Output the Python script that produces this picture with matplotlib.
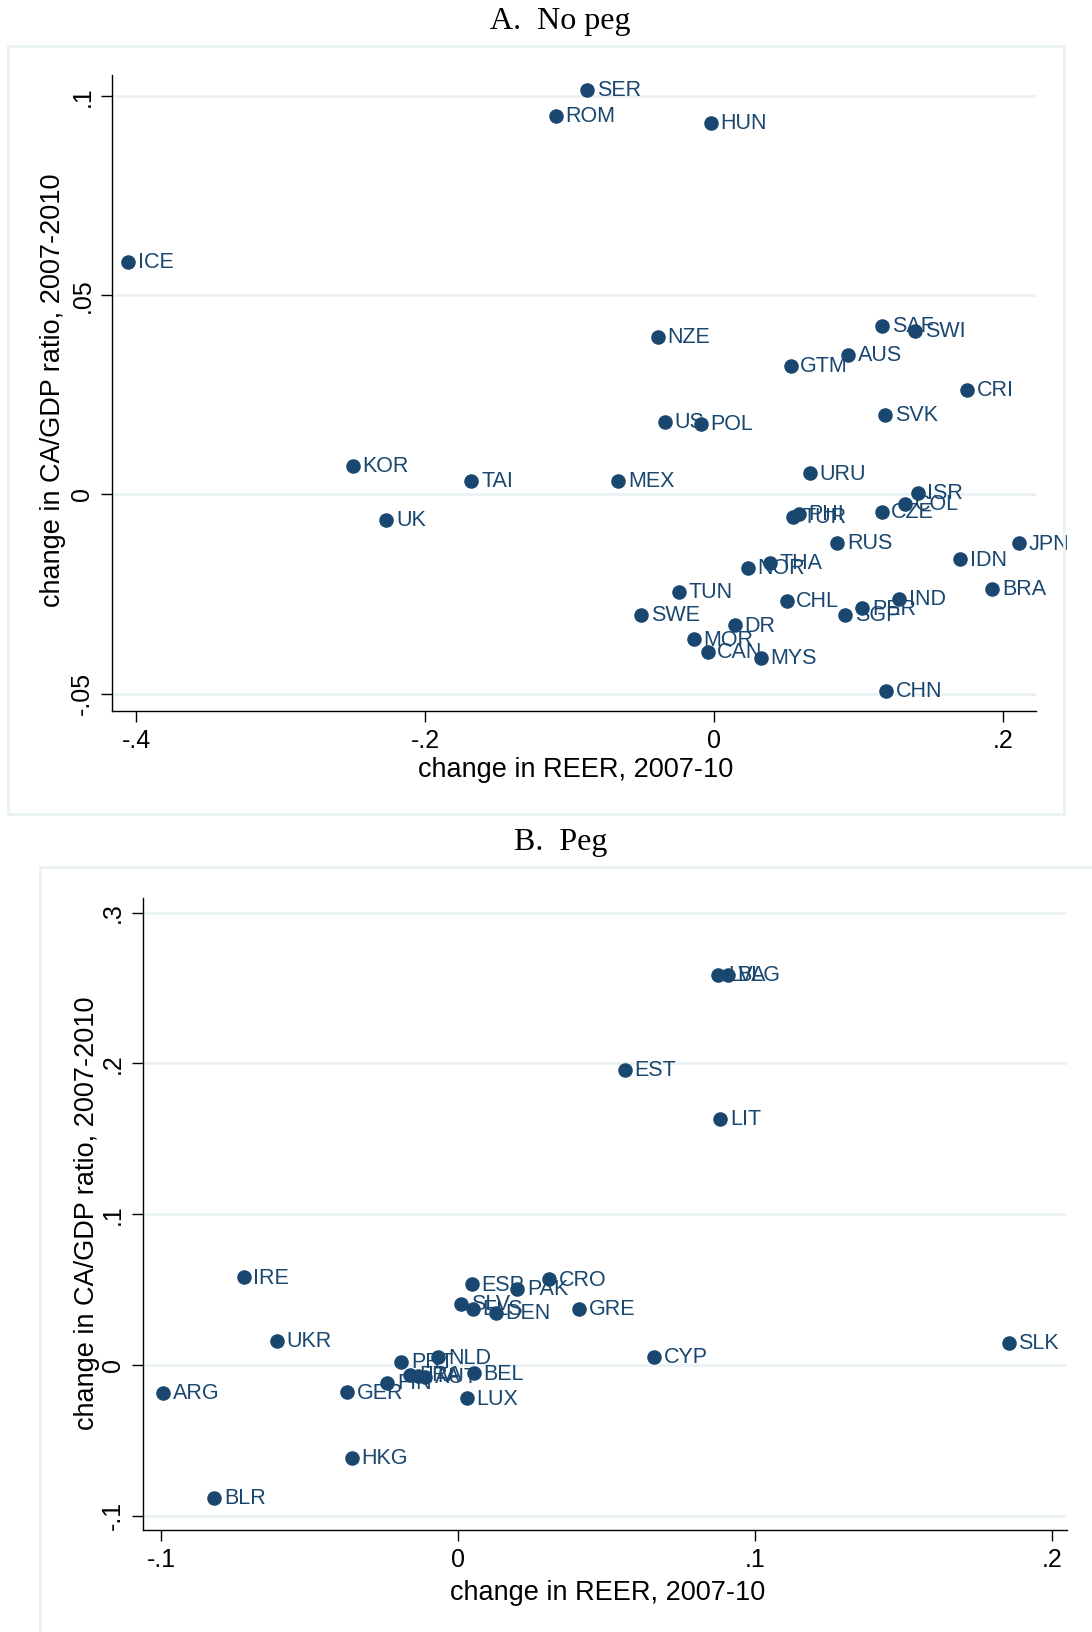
import matplotlib.pyplot as plt
from matplotlib.patches import Rectangle

# Panel A: no peg
names_a = ['SER', 'ROM', 'HUN', 'ICE', 'NZE', 'SAF', 'SWI', 'AUS', 'GTM', 'CRI',
           'SVK', 'US', 'POL', 'KOR', 'TAI', 'MEX', 'URU', 'ISR', 'COL', 'CZE',
           'PHI', 'TUR', 'UK', 'RUS', 'JPN', 'IDN', 'THA', 'NOR', 'TUN', 'BRA',
           'CHL', 'IND', 'PER', 'SGP', 'SWE', 'DR', 'MOR', 'CAN', 'MYS', 'CHN']
reer_a = [-0.0879, -0.1095, -0.0022, -0.4058, -0.0389, 0.1165, 0.1391, 0.0929, 0.0530, 0.1753,
          0.1183, -0.0339, -0.0094, -0.2500, -0.1680, -0.0663, 0.0664, 0.1409, 0.1322, 0.1160,
          0.0588, 0.0544, -0.2270, 0.0853, 0.2113, 0.1702, 0.0387, 0.0232, -0.0246, 0.1926,
          0.0502, 0.1282, 0.1026, 0.0906, -0.0506, 0.0143, -0.0139, -0.0045, 0.0324, 0.1190]
ca_a = [0.1016, 0.0951, 0.0933, 0.0583, 0.0395, 0.0423, 0.0411, 0.0350, 0.0323, 0.0262,
        0.0199, 0.0183, 0.0178, 0.0071, 0.0034, 0.0033, 0.0053, 0.0004, -0.0024, -0.0043,
        -0.0049, -0.0056, -0.0063, -0.0121, -0.0123, -0.0163, -0.0171, -0.0184, -0.0244, -0.0238,
        -0.0267, -0.0263, -0.0286, -0.0303, -0.0303, -0.0329, -0.0364, -0.0396, -0.0411, -0.0493]

# Panel B: peg
names_b = ['LVA', 'BLG', 'EST', 'LIT', 'IRE', 'ESP', 'PAK', 'CRO', 'SLV', 'ELS',
           'DEN', 'GRE', 'UKR', 'PRT', 'NLD', 'FRA', 'ITA', 'AUT', 'FIN', 'BEL',
           'LUX', 'GER', 'ARG', 'CYP', 'SLK', 'HKG', 'BLR']
reer_b = [0.0876, 0.0908, 0.0561, 0.0883, -0.0722, 0.0046, 0.0200, 0.0306, 0.0010, 0.0049,
          0.0127, 0.0406, -0.0610, -0.0192, -0.0066, -0.0162, -0.0134, -0.0111, -0.0238, 0.0052,
          0.0029, -0.0375, -0.0992, 0.0659, 0.1854, -0.0358, -0.0820]
ca_b = [0.2590, 0.2590, 0.1955, 0.1630, 0.0580, 0.0534, 0.0505, 0.0567, 0.0403, 0.0370,
        0.0347, 0.0370, 0.0159, 0.0020, 0.0049, -0.0068, -0.0072, -0.0079, -0.0120, -0.0057,
        -0.0223, -0.0183, -0.0187, 0.0055, 0.0145, -0.0615, -0.0884]

navy = '#1a476f'
grid = '#eaf2f3'
plt.rcParams['font.family'] = ['Liberation Sans', 'DejaVu Sans']

fig = plt.figure(figsize=(10.92, 16.32), dpi=100)

# outer graph-region borders
fig.patches.append(Rectangle((0.0076, 0.5012), 0.9668, 0.4707, transform=fig.transFigure,
                             fill=False, edgecolor=grid, lw=2))
fig.patches.append(Rectangle((0.0363, -0.01), 1.0, 0.4788, transform=fig.transFigure,
                             fill=False, edgecolor=grid, lw=2))

fig.text(0.513, 0.987, 'A.  No peg', ha='center', va='center',
         family='Liberation Serif', fontsize=23)
fig.text(0.513, 0.4835, 'B.  Peg', ha='center', va='center',
         family='Liberation Serif', fontsize=23)


def panel(ax, x, y, names, xlim, ylim, xticks, xlabels, yticks, ylabels, xlab_pos, ylab_pos):
    ax.set_xlim(xlim)
    ax.set_ylim(ylim)
    ax.set_xticks(xticks)
    ax.set_xticklabels(xlabels)
    ax.set_yticks(yticks)
    ax.set_yticklabels(ylabels, rotation=90, va='center')
    for v in yticks:
        ax.axhline(v, color=grid, lw=2, zorder=0)
    ax.scatter(x, y, s=110, color=navy, zorder=3, linewidths=0)
    for xi, yi, n in zip(x, y, names):
        ax.annotate(n, (xi, yi), xytext=(7, -0.5), textcoords='offset points',
                    va='center', ha='left', color=navy, fontsize=15.5)
    for s in ['top', 'right']:
        ax.spines[s].set_visible(False)
    ax.spines['left'].set_linewidth(1)
    ax.spines['bottom'].set_linewidth(1)
    ax.tick_params(direction='out', length=8, width=1, labelsize=18, pad=5)
    ax.set_xlabel('change in REER, 2007-10', fontsize=19.5)
    ax.set_ylabel('change in CA/GDP ratio, 2007-2010', fontsize=19.5)
    ax.xaxis.set_label_coords(*xlab_pos)
    ax.yaxis.set_label_coords(*ylab_pos)


ax1 = fig.add_axes([0.1029, 0.5643, 0.8456, 0.3897])
panel(ax1, reer_a, ca_a, names_a, (-0.4166, 0.2227), (-0.0544, 0.1053),
      [-0.4, -0.2, 0, 0.2], ['-.4', '-.2', '0', '.2'],
      [-0.05, 0, 0.05, 0.1], ['-.05', '0', '.05', '.1'],
      (0.502, -0.072), (-0.0500, 0.505))

ax2 = fig.add_axes([0.1306, 0.0623, 0.8465, 0.3872])
panel(ax2, reer_b, ca_b, names_b, (-0.1062, 0.2050), (-0.1098, 0.3095),
      [-0.1, 0, 0.1, 0.2], ['-.1', '0', '.1', '.2'],
      [-0.1, 0, 0.1, 0.2, 0.3], ['-.1', '0', '.1', '.2', '.3'],
      (0.5035, -0.079), (-0.0460, 0.502))

fig.savefig('out.png', dpi=100)
